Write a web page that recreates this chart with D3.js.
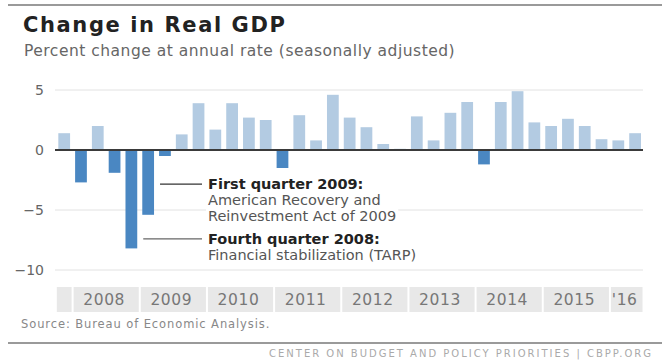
<!DOCTYPE html>
<html>
<head>
<meta charset="utf-8">
<script src="https://cdn.jsdelivr.net/npm/d3@7"></script>
<style>
  body { margin: 0; background: #fff; }
  text { font-family: "DejaVu Sans", sans-serif; }
</style>
</head>
<body>
<div id="chart"></div>
<script>
const width = 662;
const height = 360;

// quarterly change in real GDP, percent at annual rate
const quarters = [
    "2007 Q4",
    "2008 Q1", "2008 Q2", "2008 Q3", "2008 Q4",
    "2009 Q1", "2009 Q2", "2009 Q3", "2009 Q4",
    "2010 Q1", "2010 Q2", "2010 Q3", "2010 Q4",
    "2011 Q1", "2011 Q2", "2011 Q3", "2011 Q4",
    "2012 Q1", "2012 Q2", "2012 Q3", "2012 Q4",
    "2013 Q1", "2013 Q2", "2013 Q3", "2013 Q4",
    "2014 Q1", "2014 Q2", "2014 Q3", "2014 Q4",
    "2015 Q1", "2015 Q2", "2015 Q3", "2015 Q4",
    "2016 Q1", "2016 Q2"
];
const gdpChange = [
    1.4,
    -2.7, 2.0, -1.9, -8.2,
    -5.4, -0.5, 1.3, 3.9,
    1.7, 3.9, 2.7, 2.5,
    -1.5, 2.9, 0.8, 4.6,
    2.7, 1.9, 0.5, 0.1,
    2.8, 0.8, 3.1, 4.0,
    -1.2, 4.0, 4.9, 2.3,
    2.0, 2.6, 2.0, 0.9,
    0.8, 1.4
];

const years = ["2007", "2008", "2009", "2010", "2011", "2012", "2013", "2014", "2015", "2016"];
const yearLabels = ["", "2008", "2009", "2010", "2011", "2012", "2013", "2014", "2015", "'16"];
const yTicks = [5, 0, -5, -10];

const notes = [
    { quarter: "2009 Q1", value: -2.85, bold: "First quarter 2009:",
      lines: ["American Recovery and", "Reinvestment Act of 2009"], lineColor: "#333" },
    { quarter: "2008 Q4", value: -7.4, bold: "Fourth quarter 2008:",
      lines: ["Financial stabilization (TARP)"], lineColor: "#666" }
];

const svg = d3.select("#chart")
    .append("svg")
    .attr("width", width)
    .attr("height", height);

// top rule
svg.append("line")
    .attr("x1", 8).attr("x2", width)
    .attr("y1", 5).attr("y2", 5)
    .attr("stroke", "#9a9a9a")
    .attr("stroke-width", 2);

svg.append("text")
    .attr("x", 23)
    .attr("y", 32)
    .attr("font-size", 21)
    .attr("font-weight", "bold")
    .attr("letter-spacing", 1.6)
    .attr("fill", "#222")
    .text("Change in Real GDP");

svg.append("text")
    .attr("x", 24)
    .attr("y", 56)
    .attr("font-size", 15.5)
    .attr("letter-spacing", 0.5)
    .attr("fill", "#666")
    .text("Percent change at annual rate (seasonally adjusted)");

const xScale = d3.scaleBand()
    .domain(quarters)
    .range([55.8, 643.5])
    .paddingInner(0.3)
    .paddingOuter(0.15);

const yScale = d3.scaleLinear()
    .domain([-10, 5])
    .range([270, 90]);

const plotLeft = 55;
const plotRight = 643;
const step = xScale.step();
const bw = xScale.bandwidth();

// gridlines
svg.append("g")
    .selectAll("line")
    .data(yTicks.filter(d => d !== 0))
    .join("line")
    .attr("x1", plotLeft).attr("x2", plotRight)
    .attr("y1", d => yScale(d)).attr("y2", d => yScale(d))
    .attr("stroke", "#e2e2e2")
    .attr("stroke-width", 1);

// y axis labels
const yAxis = d3.axisLeft(yScale)
    .tickValues(yTicks)
    .tickSize(0)
    .tickPadding(0)
    .tickFormat(d3.format("d"));

svg.append("g")
    .attr("transform", "translate(44,0)")
    .call(yAxis)
    .call(g => g.select(".domain").remove())
    .selectAll("text")
    .attr("font-family", "DejaVu Sans, sans-serif")
    .attr("font-size", 14)
    .attr("fill", "#666");

// bars
svg.append("g")
    .selectAll("rect")
    .data(quarters)
    .join("rect")
    .attr("x", d => xScale(d))
    .attr("width", bw)
    .attr("y", (d, i) => yScale(Math.max(0, gdpChange[i])))
    .attr("height", (d, i) => Math.abs(yScale(gdpChange[i]) - yScale(0)))
    .attr("fill", (d, i) => gdpChange[i] < 0 ? "#4a87c2" : "#b3cbe2");

// zero line
svg.append("line")
    .attr("x1", plotLeft).attr("x2", plotRight)
    .attr("y1", yScale(0)).attr("y2", yScale(0))
    .attr("stroke", "#3a3a3a")
    .attr("stroke-width", 2);

// year band along the bottom
const yearGroups = years.map(yr => quarters.filter(q => q.startsWith(yr)));
const band = svg.append("g");
yearGroups.forEach((qs, i) => {
    const x0 = xScale(qs[0]) - step * 0.15;
    const x1 = xScale(qs[qs.length - 1]) + bw + step * 0.15;
    band.append("rect")
        .attr("x", x0 + 1)
        .attr("y", 287)
        .attr("width", x1 - x0 - 2)
        .attr("height", 25)
        .attr("fill", "#e8e8e8");
    band.append("text")
        .attr("x", (x0 + x1) / 2 - 2)
        .attr("y", 305)
        .attr("text-anchor", "middle")
        .attr("font-size", 15.5)
        .attr("letter-spacing", 0.6)
        .attr("fill", "#777")
        .text(yearLabels[i]);
});

// annotations: white backing rect so the -5 gridline stops behind the text
notes.forEach(n => {
    const yy = yScale(n.value);
    svg.append("line")
        .attr("x1", xScale(n.quarter) + bw + 6)
        .attr("x2", 202)
        .attr("y1", yy).attr("y2", yy)
        .attr("stroke", n.lineColor)
        .attr("stroke-width", 1.2);
    const g = svg.append("g");
    const bg = g.append("rect").attr("fill", "#fff");
    g.append("text")
        .attr("x", 208)
        .attr("y", yy + 5)
        .attr("font-size", 14.5)
        .attr("font-weight", "bold")
        .attr("fill", "#222")
        .text(n.bold);
    n.lines.forEach((l, i) => {
        g.append("text")
            .attr("x", 208)
            .attr("y", yy + 5 + 16 * (i + 1))
            .attr("font-size", 14.5)
            .attr("fill", "#555")
            .text(l);
    });
    const box = g.node().getBBox();
    bg.attr("x", box.x - 2).attr("y", box.y)
        .attr("width", box.width + 4).attr("height", box.height);
});

svg.append("text")
    .attr("x", 21)
    .attr("y", 328)
    .attr("font-size", 11.5)
    .attr("letter-spacing", 0.9)
    .attr("fill", "#888")
    .text("Source: Bureau of Economic Analysis.");

// bottom rule and credit
svg.append("line")
    .attr("x1", 8).attr("x2", width)
    .attr("y1", 343).attr("y2", 343)
    .attr("stroke", "#9a9a9a")
    .attr("stroke-width", 2);

svg.append("text")
    .attr("x", 269)
    .attr("y", 357)
    .attr("font-size", 10)
    .attr("letter-spacing", 2.0)
    .attr("fill", "#aaa")
    .text("CENTER ON BUDGET AND POLICY PRIORITIES | CBPP.ORG");
</script>
</body>
</html>
